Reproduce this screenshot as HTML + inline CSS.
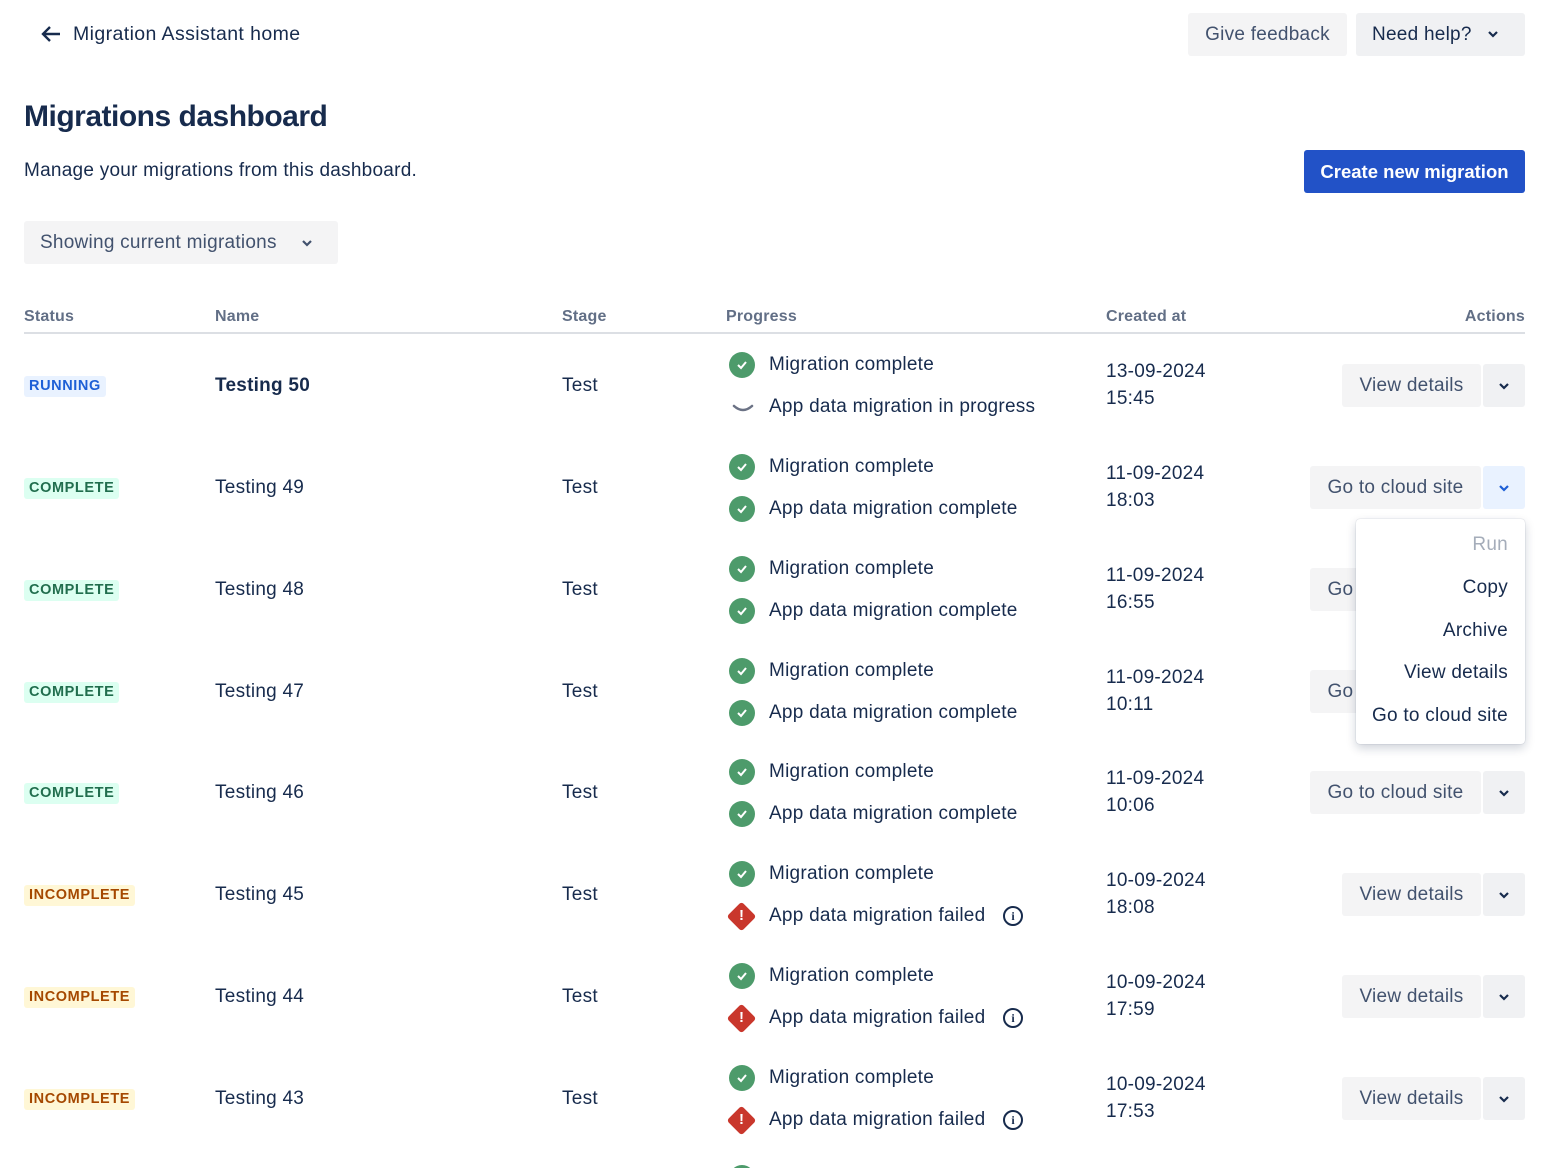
<!DOCTYPE html>
<html><head><meta charset="utf-8"><style>
*{margin:0;padding:0;box-sizing:border-box}
html,body{width:1566px;height:1168px;overflow:hidden}
body{background:#fff;font-family:"Liberation Sans",sans-serif;color:#172b4d;position:relative}
.a{position:absolute;white-space:nowrap}
.t{font-size:19px;line-height:22px;letter-spacing:.25px}
.h{font-size:16px;font-weight:bold;color:#626f86;line-height:18px;letter-spacing:.2px}
.btn{position:absolute;background:#f4f4f5;border-radius:3px;font-size:19px;letter-spacing:.25px;color:#42526e;height:43px;line-height:43px;text-align:center;white-space:nowrap}
.chev{position:absolute;background:#f0f1f3;border-radius:3px;width:42px;height:43px;display:flex;align-items:center;justify-content:center}
.loz{position:absolute;left:24px;height:21px;line-height:21px;padding:0 5px;font-size:14.5px;font-weight:bold;border-radius:3px;letter-spacing:.6px}
.run{background:#e9f2ff;color:#1d5fd6}
.com{background:#dcfff1;color:#216e4e}
.inc{background:#fff7d6;color:#a54800}
.ok{position:absolute;left:729px;width:26px;height:26px;border-radius:50%;background:#4d9b6b;display:flex;align-items:center;justify-content:center}
.err{position:absolute;left:731px;width:21px;height:21px;background:#c9372c;transform:rotate(45deg);border-radius:3px}
.em{position:absolute;left:739px;width:5px;color:#fff;font-weight:bold;font-size:15px;line-height:15px;text-align:center}
.info{position:absolute;left:1003px;width:20px;height:20px;border:2px solid #172b4d;border-radius:50%;font-size:12px;font-weight:bold;text-align:center;line-height:16px;font-family:"Liberation Serif",serif}
</style></head><body>
<svg class="a" style="left:40px;top:25px" width="22" height="18" viewBox="0 0 22 18"><path d="M20 9H3M10 2L3 9l7 7" stroke="#172b4d" stroke-width="2.4" fill="none"/></svg>
<div class="a t" style="left:73px;top:23px;font-size:19.5px;letter-spacing:.4px">Migration Assistant home</div>
<div class="btn" style="left:1188px;top:13px;width:159px;">Give feedback</div>
<div class="btn" style="left:1356px;top:13px;width:169px;background:#f0f1f3;color:#172b4d;text-align:left;padding-left:16px">Need help? <svg style="position:absolute;left:131px;top:17px" width="12" height="8" viewBox="0 0 12 8"><path d="M2 2l4 4 4-4" stroke="#172b4d" stroke-width="2.2" fill="none"/></svg></div>
<div class="a" style="left:24px;top:98px;font-size:30px;font-weight:bold;line-height:38px;letter-spacing:-.5px">Migrations dashboard</div>
<div class="a t" style="left:24px;top:160px">Manage your migrations from this dashboard.</div>
<div class="btn" style="left:1304px;top:150px;width:221px;background:#2252c7;color:#fff;font-weight:bold;font-size:18.5px;letter-spacing:0">Create new migration</div>
<div class="btn" style="left:24px;top:221px;width:314px;text-align:left;padding-left:16px">Showing current migrations <svg style="position:absolute;left:277px;top:18px" width="12" height="8" viewBox="0 0 12 8"><path d="M2 2l4 4 4-4" stroke="#42526e" stroke-width="2.2" fill="none"/></svg></div>
<div class="a h" style="left:24px;top:308px">Status</div>
<div class="a h" style="left:215px;top:308px">Name</div>
<div class="a h" style="left:562px;top:308px">Stage</div>
<div class="a h" style="left:726px;top:308px">Progress</div>
<div class="a h" style="left:1106px;top:308px">Created at</div>
<div class="a h" style="right:41px;top:308px">Actions</div>
<div class="a" style="left:24px;top:332px;width:1501px;height:2px;background:#dcdfe4"></div>

<div id="rows"></div>
<script>
const rows=[
["run","RUNNING","Testing 50",1,"13-09-2024","15:45","v"],
["com","COMPLETE","Testing 49",0,"11-09-2024","18:03","g"],
["com","COMPLETE","Testing 48",0,"11-09-2024","16:55","g"],
["com","COMPLETE","Testing 47",0,"11-09-2024","10:11","g"],
["com","COMPLETE","Testing 46",0,"11-09-2024","10:06","g"],
["inc","INCOMPLETE","Testing 45",2,"10-09-2024","18:08","v"],
["inc","INCOMPLETE","Testing 44",2,"10-09-2024","17:59","v"],
["inc","INCOMPLETE","Testing 43",2,"10-09-2024","17:53","v"]];
const cs=[386,488,590,692,793,895,997,1099];
const chk='<svg width="12" height="10" viewBox="0 0 12 10"><path d="M2 5l3 3 5-6" stroke="#fff" stroke-width="2" fill="none"/></svg>';
const cv=(c)=>`<svg width="12" height="8" viewBox="0 0 12 8"><path d="M2 2l4 4 4-4" stroke="${c}" stroke-width="2.2" fill="none"/></svg>`;
let h='';
rows.forEach((r,i)=>{const c=cs[i];
h+=`<div class="loz ${r[0]}" style="top:${c-10}px">${r[1]}</div>`;
h+=`<div class="a t" style="left:215px;top:${c-11}px;${r[3]==1?'font-weight:bold':''}">${r[2]}</div>`;
h+=`<div class="a t" style="left:562px;top:${c-11}px">Test</div>`;
const y1=c-21,y2=c+21;
h+=`<div class="ok" style="top:${y1-13}px">${chk}</div><div class="a t" style="left:769px;top:${y1-11}px">Migration complete</div>`;
if(r[3]==0)h+=`<div class="ok" style="top:${y2-13}px">${chk}</div><div class="a t" style="left:769px;top:${y2-11}px">App data migration complete</div>`;
if(r[3]==1)h+=`<svg class="a" style="left:731px;top:${y2-6}px" width="24" height="14" viewBox="0 0 24 14"><path d="M3 5q9 8 18 0" stroke="#6b7285" stroke-width="2.5" fill="none" stroke-linecap="round"/></svg><div class="a t" style="left:769px;top:${y2-11}px">App data migration in progress</div>`;
if(r[3]==2)h+=`<div class="err" style="top:${y2-10}px"></div><div class="em" style="top:${y2-8}px">!</div><div class="a t" style="left:769px;top:${y2-11}px">App data migration failed</div><div class="info" style="top:${y2-10}px">i</div>`;
h+=`<div class="a t" style="left:1106px;top:${c-25}px">${r[4]}</div><div class="a t" style="left:1106px;top:${c+2}px">${r[5]}</div>`;
if(r[6]=='v')h+=`<div class="btn" style="left:1342px;top:${c-22}px;width:139px">View details</div>`;
else h+=`<div class="btn" style="left:1310px;top:${c-22}px;width:171px">Go to cloud site</div>`;
h+=`<div class="chev" style="left:1483px;top:${c-22}px;${i==1?'background:#e9f2ff':''}">${cv(i==1?'#1d5fd6':'#172b4d')}</div>`;
});
h+=`<div class="ok" style="top:1165px"></div>`;
document.getElementById('rows').outerHTML=h;
</script>
<div class="a" style="left:1356px;top:519px;width:169px;height:225px;background:#fff;border-radius:4px;box-shadow:0 4px 10px rgba(9,30,66,.2),0 0 1px rgba(9,30,66,.3);font-size:19px;letter-spacing:.25px;text-align:right">
<div style="position:absolute;right:17px;top:15px;color:#a5adba">Run</div>
<div style="position:absolute;right:17px;top:58px">Copy</div>
<div style="position:absolute;right:17px;top:101px">Archive</div>
<div style="position:absolute;right:17px;top:143px">View details</div>
<div style="position:absolute;right:17px;top:186px">Go to cloud site</div>
</div>
</body></html>
